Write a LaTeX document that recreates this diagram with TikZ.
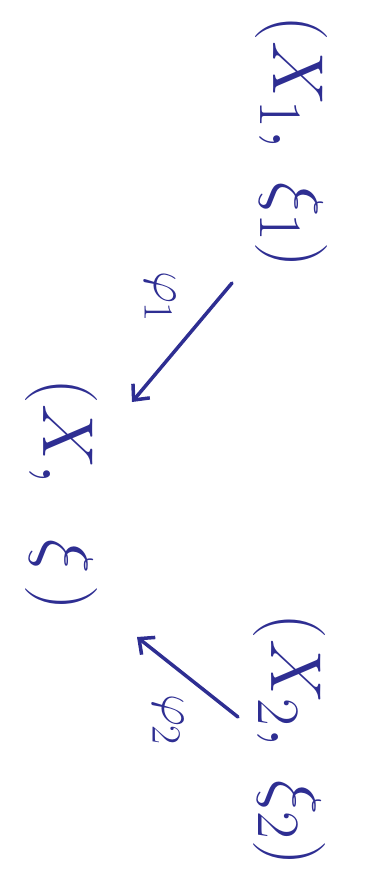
\documentclass[tikz,border=0pt]{standalone}
\usetikzlibrary{arrows.meta}
\definecolor{ink}{RGB}{46,46,146}
\begin{document}
\begin{tikzpicture}[x=1pt,y=-1pt,
  lbl/.style={text=ink,rotate=-90,inner sep=0pt,scale=2.9,font=\Huge},
  small/.style={text=ink,rotate=-90,inner sep=0pt,scale=2.0,font=\Huge},
  arr/.style={draw=ink,line width=3.5pt,line cap=round,-{Straight Barb[length=12pt,width=22pt,line width=3.5pt]}}]
\useasboundingbox (0,0) rectangle (367,877);
\node[lbl] (x1) at (292,142) {$\bigl(X_1,\ \xi_1\bigr)$};
\node[lbl] (x) at (62,495) {$\bigl(X,\ \ \xi\,\bigr)$};
\node[lbl] (x2) at (290,740) {$\bigl(X_2,\ \xi_2\bigr)$};
\node[small] (p1) at (160,297) {$\varphi_1$};
\node[small] (p2) at (168,720) {$\varphi_2$};
\coordinate (a1s) at (232,283);
\coordinate (a1e) at (132,402);
\coordinate (a2s) at (238,717);
\coordinate (a2e) at (137,637);
\draw[arr] (a1s) -- (a1e);
\draw[arr] (a2s) -- (a2e);
\end{tikzpicture}
\end{document}
